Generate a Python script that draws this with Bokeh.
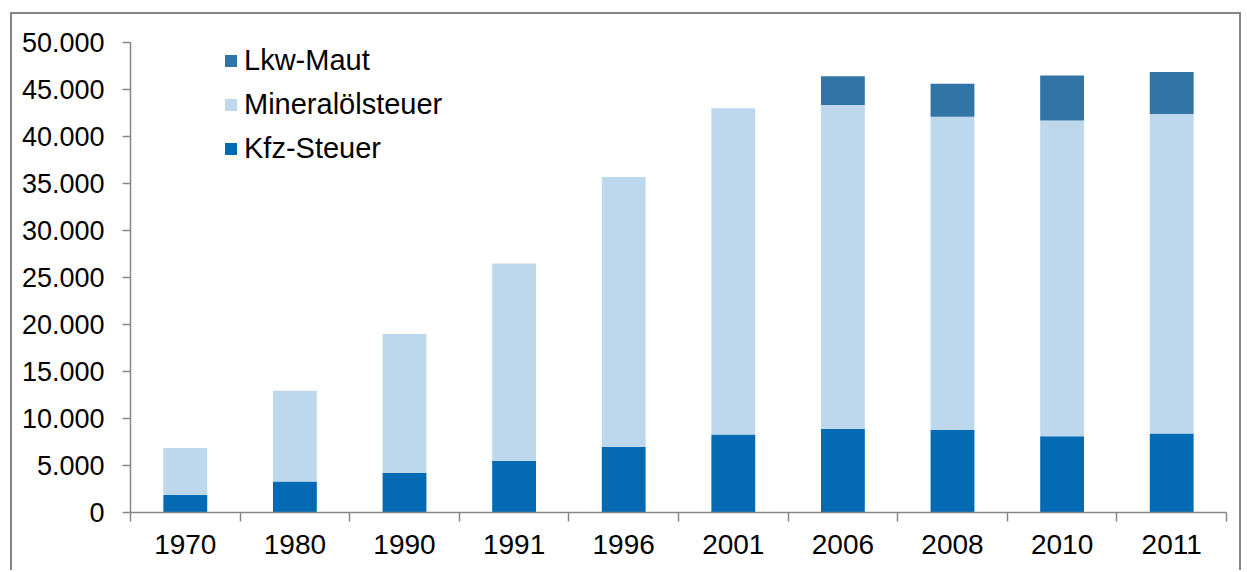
import numpy as np
from bokeh.plotting import figure
from bokeh.models import (ColumnDataSource, Range1d, FixedTicker, Legend, LegendItem)
from bokeh.embed import file_html
from bokeh.resources import INLINE

# ---- data (Mio. EUR) ----
years = ["1970", "1980", "1990", "1991", "1996", "2001", "2006", "2008", "2010", "2011"]
kfz_steuer = [1900, 3300, 4200, 5500, 7000, 8300, 8900, 8800, 8100, 8400]
mineraloelsteuer = [4950, 9650, 14800, 21000, 28700, 34700, 34450, 33300, 33600, 34000]
lkw_maut = [0, 0, 0, 0, 0, 0, 3050, 3500, 4800, 4450]
series_names = ["Kfz-Steuer", "Mineralölsteuer", "Lkw-Maut"]
series_colors = ["#046AB4", "#BDD8EC", "#3174A6"]
y_ticks = list(range(0, 50001, 5000))

FONT = "Liberation Sans"
AXIS_COLOR = "#868686"

x_pos = [i + 0.5 for i in range(len(years))]
src = ColumnDataSource(dict(x=x_pos, kfz=kfz_steuer, min=mineraloelsteuer, maut=lkw_maut))

p = figure(width=1231, height=558, output_backend="svg", toolbar_location=None,
           x_range=Range1d(0, len(years)), y_range=Range1d(0, 50000),
           min_border_left=118, min_border_right=17, min_border_top=28, min_border_bottom=60)
# outer chart frame (grey border on top / left / right)
p.styles = {
    "margin-left": "10px", "margin-top": "12px",
    "border-left": f"2px solid {AXIS_COLOR}",
    "border-top": f"2px solid {AXIS_COLOR}",
    "border-right": f"2px solid {AXIS_COLOR}",
}
p.outline_line_color = None
p.xgrid.visible = False
p.ygrid.visible = False
p.background_fill_color = "white"
p.border_fill_color = "white"

renderers = p.vbar_stack(["kfz", "min", "maut"], x="x", width=0.4, color=series_colors,
                         line_color=None, source=src)

# x axis: labels at category centres, ticks at category boundaries
xa = p.xaxis[0]
xa.ticker = FixedTicker(ticks=x_pos, minor_ticks=list(range(len(years) + 1)))
xa.major_label_overrides = {xv: y for xv, y in zip(x_pos, years)}
xa.major_tick_out = 0
xa.major_tick_in = 0
xa.minor_tick_out = 9
xa.minor_tick_in = 0
xa.minor_tick_line_color = AXIS_COLOR
xa.minor_tick_line_width = 1.5
xa.axis_line_color = AXIS_COLOR
xa.axis_line_width = 1.5
xa.major_label_text_font = FONT
xa.major_label_text_font_size = "28px"
xa.major_label_text_color = "black"
xa.major_label_standoff = 13

ya = p.yaxis[0]
ya.ticker = FixedTicker(ticks=y_ticks, minor_ticks=[])
ya.major_label_overrides = {v: f"{v:,}".replace(",", ".") for v in y_ticks}
ya.major_tick_out = 8
ya.major_tick_in = 0
ya.major_tick_line_color = AXIS_COLOR
ya.major_tick_line_width = 1.5
ya.axis_line_color = AXIS_COLOR
ya.axis_line_width = 1.5
ya.major_label_text_font = FONT
ya.major_label_text_font_size = "27px"
ya.major_label_text_color = "black"
ya.major_label_standoff = 18

items = [LegendItem(label=series_names[i], renderers=[renderers[i]]) for i in (2, 1, 0)]
legend = Legend(items=items, location=(93, 347), orientation="vertical",
                glyph_width=15, glyph_height=15, label_standoff=6,
                label_text_font=FONT, label_text_font_size="29px", label_text_color="black",
                label_height=34, spacing=10, padding=0, margin=0,
                border_line_color=None, background_fill_alpha=0)
p.add_layout(legend)

open("out.html", "w").write(file_html(p, INLINE))
